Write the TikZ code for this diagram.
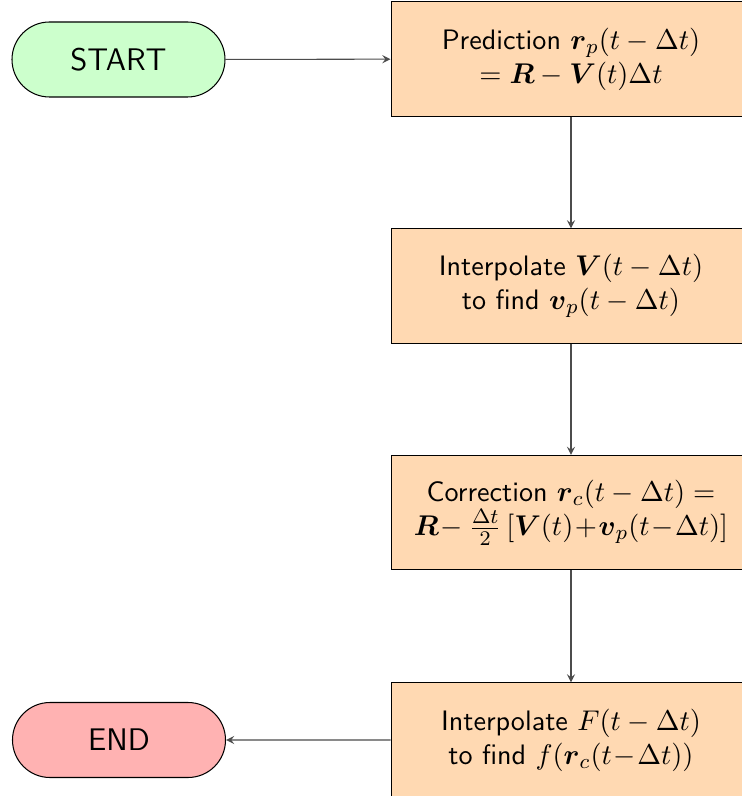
\documentclass[tikz,border=0pt]{standalone}
\usepackage{amsmath}
\usepackage{amssymb}
\usepackage{xcolor}
\usetikzlibrary{shapes.misc,arrows}
\renewcommand{\familydefault}{\sfdefault}

\begin{document}
\begin{tikzpicture}[x=0.3840pt,y=-0.3840pt,
    terminal/.style={rounded rectangle,draw=black,minimum width=81.8pt,minimum height=28.8pt,font=\large,inner sep=0pt},
    procbox/.style={rectangle,draw=black,fill=orange!30,minimum width=138.2pt,minimum height=43.8pt,align=center,inner sep=2pt,font=\fontsize{10.8}{13}\selectfont},
    flow/.style={-stealth,draw=black!70}]
    % Clip to the visible page
    \useasboundingbox (0,0) rectangle (741,796);
    % Terminals
    \node[terminal,fill=green!20] (start) at (118.5,59.5) {START};
    \node[terminal,fill=red!30] (stop) at (119,740) {END};
    % Steps
    \node[procbox] (predict) at (571,59) {Prediction $\boldsymbol{r}_p(t-\Delta t)$\\ $=\boldsymbol{R}-\boldsymbol{V}(t)\Delta t$};
    \node[procbox] (interpV) at (571,286) {Interpolate $\boldsymbol{V}(t-\Delta t)$\\ to find $\boldsymbol{v}_p(t-\Delta t)$};
    \node[procbox] (correct) at (571,512.5) {Correction $\boldsymbol{r}_c(t-\Delta t)=$\\ $\boldsymbol{R}\!-\frac{\Delta t}{2}\left[\boldsymbol{V}(t)\!+\!\boldsymbol{v}_p(t\!-\!\Delta t)\right]$};
    \node[procbox] (interpF) at (571,740) {Interpolate $F(t-\Delta t)$\\ to find $f(\boldsymbol{r}_c(t\!-\!\Delta t))$};
    % Connectors
    \draw[flow] (start) -- (predict);
    \draw[flow] (predict) -- (interpV);
    \draw[flow] (interpV) -- (correct);
    \draw[flow] (correct) -- (interpF);
    \draw[flow] (interpF) -- (stop);
\end{tikzpicture}
\end{document}
